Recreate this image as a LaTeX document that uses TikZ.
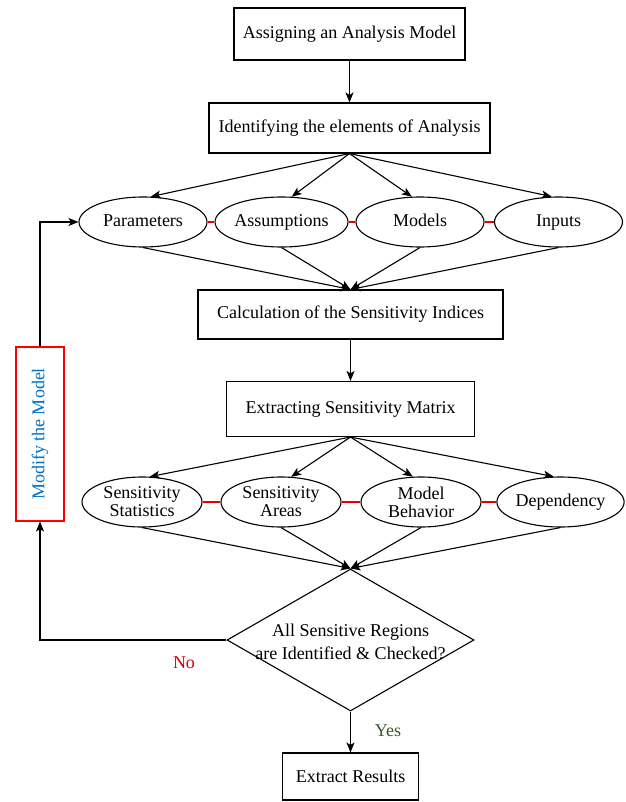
\documentclass[tikz,border=0pt]{standalone}
\usepackage{fontspec}
\setmainfont{Liberation Serif}
\usetikzlibrary{shapes.geometric,arrows.meta}
\definecolor{modblue}{RGB}{0,112,192}
\definecolor{nored}{RGB}{210,0,0}
\definecolor{yesgreen}{RGB}{56,87,35}
\definecolor{linkred}{RGB}{230,0,0}
\tikzset{
  every node/.style={font=\fontsize{18}{21}\selectfont},
  stepbox/.style={draw, line width=1.1pt, rectangle, inner sep=0pt, align=center},
  elem/.style={draw, line width=1.1pt, ellipse, inner sep=0pt, align=center, minimum height=50pt},
  oneline/.style={text height=12pt, text depth=4pt},
  arr/.style={line width=1.1pt, -{Stealth[length=10pt,width=8pt,inset=2.5pt]}},
  link/.style={line width=1.1pt, draw=linkred},
}
\begin{document}
\begin{tikzpicture}[x=1pt,y=-1pt]
\useasboundingbox (0,0) rectangle (625,802);
% boxes
\node[stepbox, minimum width=231pt, minimum height=52pt] (b1) at (349.5,34) {Assigning an Analysis Model};
\node[stepbox, minimum width=281pt, minimum height=50pt] (b2) at (349.5,128) {Identifying the elements of Analysis};
\node[stepbox, minimum width=305pt, minimum height=49pt] (b3) at (350.5,314.5) {Calculation of the Sensitivity Indices};
\node[stepbox, minimum width=248pt, minimum height=55pt] (b4) at (350.5,409) {Extracting Sensitivity Matrix};
\node[stepbox, minimum width=136pt, minimum height=47pt] (b5) at (350.5,776.5) {Extract Results};
% first ellipse row
\node[elem, oneline, minimum width=128pt] (p) at (143,222) {Parameters};
\node[elem, oneline, minimum width=128pt] (a) at (281.5,222) {Assumptions};
\node[elem, oneline, minimum width=128pt] (m) at (420,222) {Models};
\node[elem, oneline, minimum width=128pt] (i) at (558.5,222) {Inputs};
% second ellipse row
\node[elem, minimum width=120pt] (s) at (142,502) {Sensitivity\\[-3pt]Statistics};
\node[elem, minimum width=120pt] (r) at (281,502) {Sensitivity\\[-3pt]Areas};
\node[elem, minimum width=120pt] (mb) at (421,502) {Model\\[-3pt]Behavior};
\node[elem, oneline, minimum width=120pt] (dp) at (560.5,502) {Dependency};
% decision
\node[draw, line width=1.1pt, diamond, inner sep=0pt, minimum width=247pt, minimum height=142pt] (d) at (350.5,640) {};
\node[align=center, inner sep=0pt] (dt) at (350.5,642) {All Sensitive Regions\\[2pt]are Identified \& Checked?};
% modify box
\node[draw=red, line width=1.1pt, rectangle, inner sep=0pt, minimum width=48pt, minimum height=174pt] (mod) at (40,434) {};
\node[rotate=90, text=modblue, inner sep=0pt] (modt) at (mod) {Modify the Model};
% labels
\node[text=nored] (no) at (184,663) {No};
\node[text=yesgreen] (yes) at (388,731) {Yes};
% connectors
\draw[arr] (b1.south) -- (b2.north);
\draw[arr] (b2.south) -- (p.73);
\draw[arr] (b2.south) -- (a.68);
\draw[arr] (b2.south) -- (m.108);
\draw[arr] (b2.south) -- (i.105);
\draw[link] (p.east) -- (a.west);
\draw[link] (a.east) -- (m.west);
\draw[link] (m.east) -- (i.west);
\draw[arr] (p.south) -- (b3.north);
\draw[arr] (a.south) -- (b3.north);
\draw[arr] (m.south) -- (b3.north);
\draw[arr] (i.south) -- (b3.north);
\draw[arr] (b3.south) -- (b4.north);
\draw[arr] (b4.south) -- (s.73);
\draw[arr] (b4.south) -- (r.68);
\draw[arr] (b4.south) -- (mb.108);
\draw[arr] (b4.south) -- (dp.105);
\draw[link] (s.east) -- (r.west);
\draw[link] (r.east) -- (mb.west);
\draw[link] (mb.east) -- (dp.west);
\draw[arr] (s.south) -- (d.north);
\draw[arr] (r.south) -- (d.north);
\draw[arr] (mb.south) -- (d.north);
\draw[arr] (dp.south) -- (d.north);
\draw[arr] (d.south) -- (b5.north);
\draw[arr] (d.west) -| (mod.south);
\draw[arr] (mod.north) |- (p.west);
\end{tikzpicture}
\end{document}
